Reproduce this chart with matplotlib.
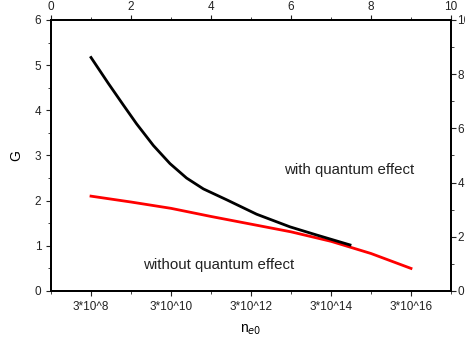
import matplotlib.pyplot as plt
from matplotlib.ticker import MultipleLocator

plt.rcParams['font.family'] = ['Liberation Sans', 'DejaVu Sans']

# positions on the log-density axis (0..10 scale)
x_with = [1, 1.43, 1.81, 2.14, 2.56, 2.975, 3.39, 3.81, 4.39, 5.14, 5.975, 6.64, 7.475]
g_with = [5.17, 4.60, 4.115, 3.70, 3.22, 2.82, 2.50, 2.26, 2.02, 1.70, 1.42, 1.24, 1.02]

x_without = [1, 2, 3, 4, 5, 6, 7, 8, 9]
g_without = [2.10, 1.97, 1.83, 1.65, 1.48, 1.31, 1.10, 0.83, 0.50]

tick_pos = [1, 3, 5, 7, 9]
tick_labels = ['3*10^8', '3*10^10', '3*10^12', '3*10^14', '3*10^16']

fig = plt.figure(figsize=(4.65, 3.37), dpi=100)
ax = fig.add_axes([0.1097, 0.1365, 0.8602, 0.8042])

ax.plot(x_without, g_without, color='#ff0000', lw=2)
ax.plot(x_with, g_with, color='black', lw=2, solid_joinstyle='round')

ax.set_xlim(0, 10)
ax.set_ylim(0, 6)
ax.set_xticks(tick_pos)
ax.set_xticklabels(tick_labels)
ax.xaxis.set_minor_locator(MultipleLocator(1))
ax.yaxis.set_major_locator(MultipleLocator(1))
ax.yaxis.set_minor_locator(MultipleLocator(0.5))
ax.tick_params(which='both', direction='out', labelsize=8.5, colors='#222222')
ax.tick_params(which='major', length=3.5)
ax.tick_params(which='minor', length=2.5)
ax.set_ylabel('G', fontsize=10, labelpad=8)
ax.set_xlabel('n$_{e0}$', fontsize=10, labelpad=7)

ax.text(5.825, 2.68, 'with quantum effect', fontsize=10.8, color='#222222', va='center')
ax.text(2.3, 0.575, 'without quantum effect', fontsize=10.8, color='#222222', va='center')

# top axis 0..10
top = ax.twiny()
top.set_xlim(0, 10)
top.xaxis.set_major_locator(MultipleLocator(2))
top.xaxis.set_minor_locator(MultipleLocator(1))
top.tick_params(which='both', direction='out', labelsize=8.5, colors='#222222', pad=1.5)
top.tick_params(which='major', length=3.5)
top.tick_params(which='minor', length=2.5)

# right axis 0..10
right = ax.twinx()
right.set_ylim(0, 10)
right.yaxis.set_major_locator(MultipleLocator(2))
right.yaxis.set_minor_locator(MultipleLocator(1))
right.tick_params(which='both', direction='out', labelsize=8.5, colors='#222222', pad=1)
right.tick_params(which='major', length=3.5)
right.tick_params(which='minor', length=2.5)

for a in (ax, top, right):
    for s in a.spines.values():
        s.set_linewidth(1.2)

fig.savefig('out.png', dpi=100)
